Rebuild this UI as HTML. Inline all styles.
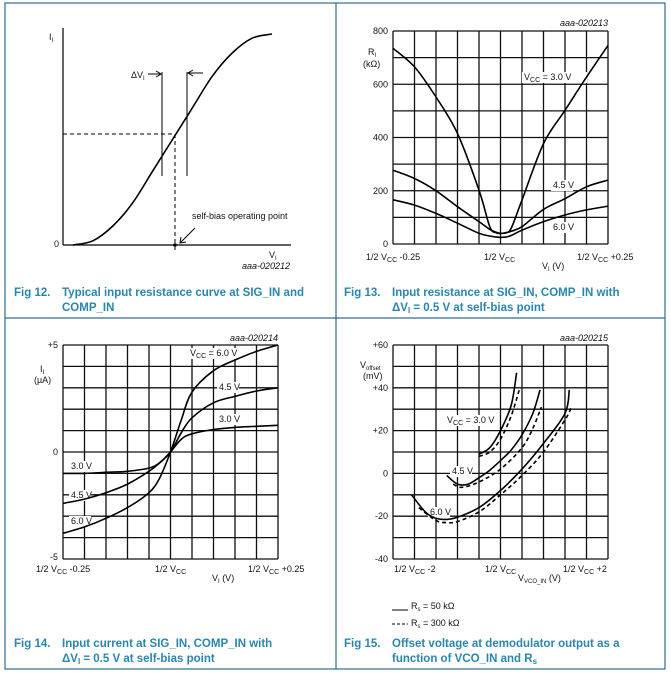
<!DOCTYPE html>
<html><head><meta charset="utf-8"><style>
html,body{margin:0;padding:0;background:#fff}
svg{display:block;font-family:"Liberation Sans",Arial,sans-serif}
.t{font-size:9px;fill:#111}
.cap{font-size:11.5px;font-weight:bold;fill:#2a86ad}
.grid{stroke:#111;stroke-width:1.3}
.curve{fill:none;stroke:#000;stroke-width:1.6}
</style></head><body>
<svg id="root" width="671" height="675" viewBox="0 0 671 675">
<g stroke="#2d6f8c" stroke-width="1.2" fill="none">
<rect x="5" y="3" width="660" height="666"/>
<line x1="336" y1="3" x2="336" y2="669"/>
<line x1="5" y1="318" x2="665" y2="318"/>
</g>
<g id="p12"></g>
<g id="p13"></g>
<g id="p14"></g>
<g id="p15"></g>
</svg>
<script>
// ---- Fig 13 data (x in V offset from 1/2 Vcc, R in kOhm)
const f13X = [-0.3125,-0.25,-0.1875,-0.125,-0.0625,-0.03125,-0.0125,0,0.015,0.03125,0.0625,0.125,0.1875,0.25,0.3125];
const f13R30 = [735,665,552,415,202,65,42,40,42,60,165,377,502,627,746];
const f13R45 = [277,246,200,140,84,55,44,40,42,48,65,130,170,215,240];
const f13R60 = [166,146,115,78,40,30,26,25,26,32,52,84,109,128,142];
// ---- Fig 14 data (x in V, I in uA)
const f14X = [-0.3125,-0.25,-0.1875,-0.125,-0.0625,-0.03125,0,0.03125,0.0625,0.125,0.1875,0.25,0.3125];
const f14I60 = [-3.8,-3.5,-3.1,-2.6,-1.9,-1.2,0,1.5,2.8,3.8,4.3,4.7,5.0];
const f14I45 = [-2.4,-2.2,-1.9,-1.5,-0.9,-0.5,0,0.9,1.6,2.3,2.6,2.85,3.0];
const f14I30 = [-1.0,-1.0,-0.95,-0.9,-0.75,-0.5,0,0.6,0.85,1.05,1.15,1.2,1.25];
// ---- Fig 15 data (x in V, offset in mV)
const f15X30s = [-0.5,-0.25,0,0.25,0.375];
const f15Y30s = [9,12,20,32,47];
const f15X30d = [-0.5,-0.25,0,0.25,0.45];
const f15Y30d = [8,10,16,27,40];
const f15X45s = [-1.25,-1,-0.75,-0.5,-0.25,0,0.25,0.5,0.75,0.92];
const f15Y45s = [-1,-5,-5,-2,1.5,6,11,18,28,39];
const f15X45d = [-1.1,-0.9,-0.5,0,0.5,0.75,0.95];
const f15Y45d = [-5,-6.5,-4,2,12,21,31];
const f15X60s = [-2.07,-1.75,-1.5,-1.25,-1,-0.5,0,0.5,1,1.5,1.6];
const f15Y60s = [-10,-18,-21,-21.5,-20.5,-16,-8,2,14,28,39];
const f15X60d = [-1.9,-1.5,-1.25,-1,-0.5,0,0.5,1,1.5,1.65];
const f15Y60d = [-16,-22,-23,-22.5,-18,-10,-1,10,25,31];
// ---- Fig 12 conceptual curve (normalised V, normalised I)
const f12V = [0,0.1,0.2,0.3,0.4,0.5,0.6,0.7,0.8,0.9,1];
const f12I = [0,0.02,0.09,0.2,0.35,0.5,0.65,0.8,0.91,0.98,1];

const NS="http://www.w3.org/2000/svg";
function el(parent,tag,attrs,text){const e=document.createElementNS(NS,tag);for(const k in attrs)e.setAttribute(k,attrs[k]);if(text!==undefined)e.textContent=text;parent.appendChild(e);return e;}
function lin(d0,d1,r0,r1){return v=>r0+(v-d0)/(d1-d0)*(r1-r0);}
function smooth(pts){let d="M"+pts[0][0].toFixed(1)+","+pts[0][1].toFixed(1);
 for(let i=0;i<pts.length-1;i++){const p0=pts[i-1]||pts[i],p1=pts[i],p2=pts[i+1],p3=pts[i+2]||p2;
 const c1=[p1[0]+(p2[0]-p0[0])/6,p1[1]+(p2[1]-p0[1])/6],c2=[p2[0]-(p3[0]-p1[0])/6,p2[1]-(p3[1]-p1[1])/6];
 d+="C"+c1[0].toFixed(1)+","+c1[1].toFixed(1)+" "+c2[0].toFixed(1)+","+c2[1].toFixed(1)+" "+p2[0].toFixed(1)+","+p2[1].toFixed(1);}return d;}
function grid(g,x0,x1,y0,y1,nc,nr){for(let i=0;i<=nc;i++){const x=x0+(x1-x0)*i/nc;const l=el(g,"line",{x1:x,y1:y0,x2:x,y2:y1,class:"grid"});

}
for(let j=0;j<=nr;j++){const y=y0+(y1-y0)*j/nr;const l=el(g,"line",{x1:x0,y1:y,x2:x1,y2:y,class:"grid"});

}}
function curve(g,xs,ys,sx,sy,name,dash){const p=el(g,"path",{d:smooth(xs.map((x,i)=>[sx(x),sy(ys[i])])),class:"curve"});if(dash)p.setAttribute("stroke-dasharray","4,3");

return p;}
function txt(g,x,y,s,name,anchor,cls){const t=el(g,"text",{x:x,y:y,class:cls||"t","text-anchor":anchor||"start"});t.innerHTML=s;

return t;}
function lab(g,x,y,w,s,name){const r=el(g,"rect",{x:x-2,y:y-8,width:w,height:11,fill:"#fff"});


txt(g,x,y,s,name);}
function fid(g,x,y,s){const t=txt(g,x,y,s,"figure-id","end");t.setAttribute("font-size","7.5");t.setAttribute("font-style","italic");}
const VCC='V<tspan font-size="7" dy="2">CC</tspan><tspan dy="-2"> </tspan>';

// ===== Fig 12 =====
(function(){const g=document.getElementById("p12");
const sx=lin(0,1,73,272),sy=lin(0,1,245,34);
el(g,"line",{x1:63,y1:28,x2:63,y2:245,stroke:"#000","stroke-width":1.2});
el(g,"line",{x1:63,y1:245,x2:291,y2:245,stroke:"#000","stroke-width":1.2});
curve(g,f12V,f12I,sx,sy,"transfer-curve");
el(g,"path",{d:"M63,134H175V250",fill:"none",stroke:"#000","stroke-dasharray":"4,3"});
el(g,"line",{x1:162,y1:72,x2:162,y2:176,stroke:"#000"});
el(g,"line",{x1:187,y1:72,x2:187,y2:176,stroke:"#000"});
el(g,"path",{d:"M148,74H160M156,71L161,74L156,77",fill:"none",stroke:"#000"});
el(g,"path",{d:"M203,73H189M193,70L188,73L193,76",fill:"none",stroke:"#000"});
el(g,"path",{d:"M195,228L181,242M181,237L180,243L186,242",fill:"none",stroke:"#000"});
el(g,"circle",{cx:175,cy:245,r:1.8,fill:"#000"});
txt(g,49,40,'I<tspan font-size="6" dy="2">I</tspan>',"y-axis-title");
txt(g,54,247,"0","y-zero-label");
txt(g,131,78,'ΔV<tspan font-size="6" dy="2">I</tspan>',"delta-vi-label");
txt(g,192,219,"self-bias operating point","operating-point-label");
txt(g,269,258,'V<tspan font-size="6" dy="2">I</tspan>',"x-axis-title");
fid(g,290,269,"aaa-020212");
txt(g,14,296,"Fig 12.","fig12-number","start","cap");
txt(g,62,296,"Typical input resistance curve at SIG_IN and","fig12-caption","start","cap");
txt(g,62,311,"COMP_IN","fig12-caption-2","start","cap");})();

// ===== Fig 13 =====
(function(){const g=document.getElementById("p13");
const x0=393,x1=608,y0=31,y1=244;grid(g,x0,x1,y0,y1,10,8);
const sx=lin(-0.3125,0.3125,x0,x1),sy=lin(0,800,y1,y0);
lab(g,524,80,65,VCC+'= 3.0 V',"label-vcc-3v");
lab(g,553,188,22,'4.5 V',"label-4v5");
lab(g,553,230,22,'6.0 V',"label-6v");
curve(g,f13X,f13R30,sx,sy,"series-3v0");curve(g,f13X,f13R45,sx,sy,"series-4v5");curve(g,f13X,f13R60,sx,sy,"series-6v0");
[800,600,400,200,0].forEach(v=>txt(g,388,sy(v)+3,v,"y-tick-"+v,"end"));
txt(g,368,55,'R<tspan font-size="6" dy="2">I</tspan>',"y-axis-title");
txt(g,363,67,"(kΩ)","y-axis-unit");
txt(g,366,260,'1/2 '+VCC+'-0.25',"x-tick-minus");
txt(g,484,260,'1/2 '+VCC,"x-tick-center");
txt(g,577,260,'1/2 '+VCC+'+0.25',"x-tick-plus");
txt(g,542,269,'V<tspan font-size="6" dy="2">I</tspan><tspan dy="-2"> (V)</tspan>',"x-axis-title");
fid(g,608,26,"aaa-020213");
txt(g,344,296,"Fig 13.","fig13-number","start","cap");
txt(g,392,296,"Input resistance at SIG_IN, COMP_IN with","fig13-caption","start","cap");
txt(g,392,311,'ΔV<tspan font-size="8" dy="2">I</tspan><tspan dy="-2"> = 0.5 V at self-bias point</tspan>',"fig13-caption-2","start","cap");})();

// ===== Fig 14 =====
(function(){const g=document.getElementById("p14");
const x0=63,x1=278,y0=345,y1=559;grid(g,x0,x1,y0,y1,10,10);
const sx=lin(-0.3125,0.3125,x0,x1),sy=lin(-5,5,y1,y0);
lab(g,190,356,66,VCC+'= 6.0 V',"label-vcc-6v");
lab(g,219,390,22,'4.5 V',"label-4v5-right");
lab(g,219,422,22,'3.0 V',"label-3v0-right");
lab(g,71,469,22,'3.0 V',"label-3v0-left");
lab(g,71,498,22,'4.5 V',"label-4v5-left");
lab(g,71,524,22,'6.0 V',"label-6v0-left");
curve(g,f14X,f14I60,sx,sy,"series-6v0");curve(g,f14X,f14I45,sx,sy,"series-4v5");curve(g,f14X,f14I30,sx,sy,"series-3v0");
txt(g,58,348,"+5","y-tick-5","end");txt(g,58,455,"0","y-tick-0","end");txt(g,58,560,"-5","y-tick-neg5","end");
txt(g,40,372,'I<tspan font-size="6" dy="2">I</tspan>',"y-axis-title");
txt(g,34,383,"(µA)","y-axis-unit");
txt(g,36,572,'1/2 '+VCC+'-0.25',"x-tick-minus");
txt(g,155,572,'1/2 '+VCC,"x-tick-center");
txt(g,248,572,'1/2 '+VCC+'+0.25',"x-tick-plus");
txt(g,212,581,'V<tspan font-size="6" dy="2">I</tspan><tspan dy="-2"> (V)</tspan>',"x-axis-title");
fid(g,278,341,"aaa-020214");
txt(g,14,647,"Fig 14.","fig14-number","start","cap");
txt(g,62,647,"Input current at SIG_IN, COMP_IN with","fig14-caption","start","cap");
txt(g,62,662,'ΔV<tspan font-size="8" dy="2">I</tspan><tspan dy="-2"> = 0.5 V at self-bias point</tspan>',"fig14-caption-2","start","cap");})();

// ===== Fig 15 =====
(function(){const g=document.getElementById("p15");
const x0=393,x1=608,y0=345,y1=559;grid(g,x0,x1,y0,y1,10,10);
const sx=lin(-2.5,2.5,x0,x1),sy=lin(-40,60,y1,y0);
lab(g,447,423,52,VCC+'= 3.0 V',"label-vcc-3v");
lab(g,452,474,22,'4.5 V',"label-4v5");
lab(g,430,515,22,'6.0 V',"label-6v0");
curve(g,f15X30s,f15Y30s,sx,sy,"series-3v0-50k");curve(g,f15X30d,f15Y30d,sx,sy,"series-3v0-300k",true);
curve(g,f15X45s,f15Y45s,sx,sy,"series-4v5-50k");curve(g,f15X45d,f15Y45d,sx,sy,"series-4v5-300k",true);
curve(g,f15X60s,f15Y60s,sx,sy,"series-6v0-50k");curve(g,f15X60d,f15Y60d,sx,sy,"series-6v0-300k",true);
[60,40,20,0,-20,-40].forEach(v=>txt(g,388,sy(v)+3,(v>0?"+":"")+v,"y-tick-"+v,"end"));
txt(g,360,368,'V<tspan font-size="6" dy="2">offset</tspan>',"y-axis-title");
txt(g,363,379,"(mV)","y-axis-unit");
txt(g,394,572,'1/2 '+VCC+'-2',"x-tick-minus");
txt(g,485,572,'1/2 '+VCC,"x-tick-center");
txt(g,563,572,'1/2 '+VCC+'+2',"x-tick-plus");
txt(g,518,581,'V<tspan font-size="6" dy="2">VCO_IN</tspan><tspan dy="-2"> (V)</tspan>',"x-axis-title");
fid(g,608,341,"aaa-020215");
el(g,"line",{x1:392,y1:610,x2:408,y2:610,stroke:"#000"});
txt(g,411,609,'R<tspan font-size="6" dy="2">s</tspan><tspan dy="-2"> = 50 kΩ</tspan>',"legend-50k");
el(g,"line",{x1:392,y1:624,x2:408,y2:624,stroke:"#000","stroke-dasharray":"3,2"});
txt(g,411,626,'R<tspan font-size="6" dy="2">s</tspan><tspan dy="-2"> = 300 kΩ</tspan>',"legend-300k");
txt(g,344,647,"Fig 15.","fig15-number","start","cap");
txt(g,392,647,"Offset voltage at demodulator output as a","fig15-caption","start","cap");
txt(g,392,662,'function of VCO_IN and R<tspan font-size="8" dy="2">s</tspan>',"fig15-caption-2","start","cap");})();
</script>
</body></html>
